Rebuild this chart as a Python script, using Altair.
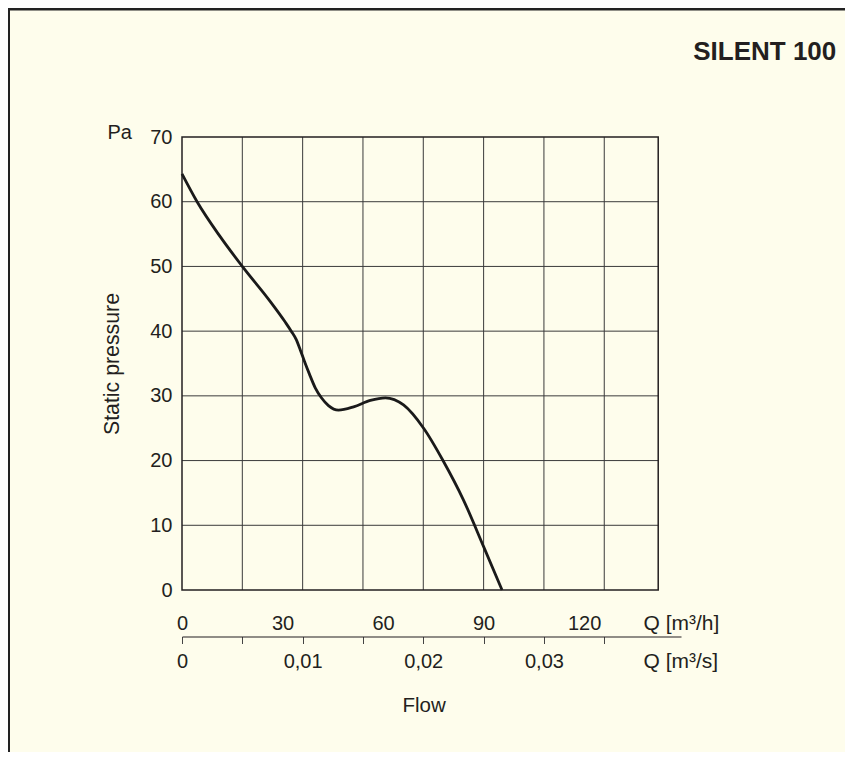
import json
import altair as alt
import pandas as pd

# ---- data ----
flow_m3h = [0, 4.5, 11.4, 18.0, 26.3, 30.8, 32.6, 34.1, 35.3, 36.5, 38.0, 39.8,
            41.6, 43.7, 46.7, 51.2, 56.2, 60.7, 66.1, 72.1, 78.0, 84.0, 90.0, 95.5]
pressure_pa = [64.3, 60.0, 54.6, 50.0, 44.6, 41.4, 40.0, 38.7, 37.1, 35.4, 33.4, 31.2,
               29.7, 28.5, 27.8, 28.3, 29.3, 29.7, 28.6, 25.0, 19.9, 13.9, 6.7, 0.0]

pa_ticks = [0, 10, 20, 30, 40, 50, 60, 70]
qh_ticks = [0, 30, 60, 90, 120]                       # m³/h labels
qs_ticks = [0, 0.005, 0.01, 0.015, 0.02, 0.025, 0.03, 0.035]   # m³/s ticks / grid
qs_labels = ["0", "", "0,01", "", "0,02", "", "0,03", ""]

frame_q_max = 142.1    # right edge of the plot frame, m³/h
axis_q_max = 148.9     # end of the m³/s axis line, m³/h
p_max = 70

title_text = "SILENT 100"

# ---- styling ----
FONT = "Liberation Sans, Arial, Helvetica, sans-serif"
INK = "#231F20"
GRID = "#3A3A3A"
BG = "#FEFDEC"
W, H = 499, 453

X = alt.Scale(domain=[0, axis_q_max], nice=False, zero=False)
Y = alt.Scale(domain=[0, p_max], nice=False, zero=False)

curve_df = pd.DataFrame({"Q": flow_m3h, "P": pressure_pa})
qs_in_h = [round(v * 3600, 3) for v in qs_ticks]
vgrid_df = pd.DataFrame({"q": qs_in_h[1:], "y0": 0, "y1": p_max})
hgrid_df = pd.DataFrame({"p": pa_ticks[1:-1], "x0": 0, "x1": frame_q_max})
frame_df = pd.DataFrame({"x0": [0], "x1": [frame_q_max], "y0": [0], "y1": [p_max]})
one_df = pd.DataFrame({"a": [0]})

qs_label_expr = f"{json.dumps(qs_labels)}[indexof({json.dumps(qs_in_h)}, round(datum.value))]"

hgrid = alt.Chart(hgrid_df).mark_rule(color=GRID, strokeWidth=1).encode(
    x=alt.X("x0:Q", scale=X, axis=alt.Axis(
        orient="bottom", labels=False, ticks=False, domain=False, grid=False,
        title="Flow", titleX=241.6, titleY=121, titleAlign="center",
        titleBaseline="alphabetic", titleAngle=0, titleFontSize=20.5)),
    x2="x1:Q",
    y=alt.Y("p:Q", scale=Y, axis=None),
)

vgrid = alt.Chart(vgrid_df).mark_rule(color=GRID, strokeWidth=1).encode(
    x=alt.X("q:Q", scale=X, axis=alt.Axis(
        orient="bottom", offset=46.5, values=qs_in_h, labelExpr=qs_label_expr,
        domain=True, domainColor=INK, domainWidth=1.2,
        ticks=True, tickSize=7, tickColor="#444444", tickWidth=1,
        grid=False, labelPadding=23.5, labelBaseline="alphabetic",
        labelFlush=False, labelOverlap=False,
        title="Q [m³/s]", titleX=461, titleY=30.5, titleAlign="left",
        titleBaseline="alphabetic", titleAngle=0, titleFontSize=21)),
    y=alt.Y("y0:Q", scale=Y, axis=alt.Axis(
        orient="left", labels=False, ticks=False, domain=False, grid=False,
        title="Pa", titleAngle=0, titleX=-75, titleY=1, titleAlign="left",
        titleBaseline="alphabetic")),
    y2="y1:Q",
)

frame = alt.Chart(frame_df).mark_rect(filled=False, stroke=INK, strokeWidth=1.5).encode(
    x=alt.X("x0:Q", scale=X, axis=None),
    x2="x1:Q",
    y=alt.Y("y0:Q", scale=Y, axis=None),
    y2="y1:Q",
)

curve = alt.Chart(curve_df).mark_line(interpolate="monotone", color="#1A1A1A",
                                      strokeWidth=2.8).encode(
    x=alt.X("Q:Q", scale=X, axis=alt.Axis(
        orient="bottom", values=qh_ticks, domain=False, ticks=False, grid=False,
        labelPadding=39, labelBaseline="alphabetic", labelFlush=False,
        labelOverlap=False,
        title="Q [m³/h]", titleX=461, titleY=39, titleAlign="left",
        titleBaseline="alphabetic", titleAngle=0, titleFontSize=21)),
    y=alt.Y("P:Q", scale=Y, axis=alt.Axis(
        orient="left", values=pa_ticks, domain=False, ticks=False, grid=False,
        labelPadding=10, labelFlush=False, labelOverlap=False,
        title="Static pressure", titleX=-64, titleY=226.5, titleAngle=270,
        titleAlign="center", titleBaseline="alphabetic", titleFontSize=21.3)),
)

border = alt.Chart(one_df).mark_rect(filled=False, stroke="#222222", strokeWidth=3).encode(
    x=alt.value(-173.5), x2=alt.value(W + 300),
    y=alt.value(-128), y2=alt.value(H + 300),
)

chart = alt.layer(hgrid, vgrid, frame, curve, border).resolve_axis(
    x="independent", y="independent"
).properties(
    width=W, height=H,
    padding={"left": 174, "top": 129, "right": 164, "bottom": 162},
    autosize=alt.AutoSizeParams(type="none"),
    title=alt.TitleParams(title_text, anchor="end", frame="group", orient="top",
                          fontSize=26, fontWeight="bold", color=INK, font=FONT,
                          baseline="alphabetic", offset=0, dx=155.3, dy=78),
).configure(
    background=BG, font=FONT,
).configure_view(
    strokeWidth=0,
).configure_axis(
    labelFont=FONT, labelFontSize=20, labelColor=INK,
    titleFont=FONT, titleFontSize=20, titleColor=INK, titleFontWeight="normal",
)

chart.save("out.html", embed_options={"renderer": "svg", "actions": False})
